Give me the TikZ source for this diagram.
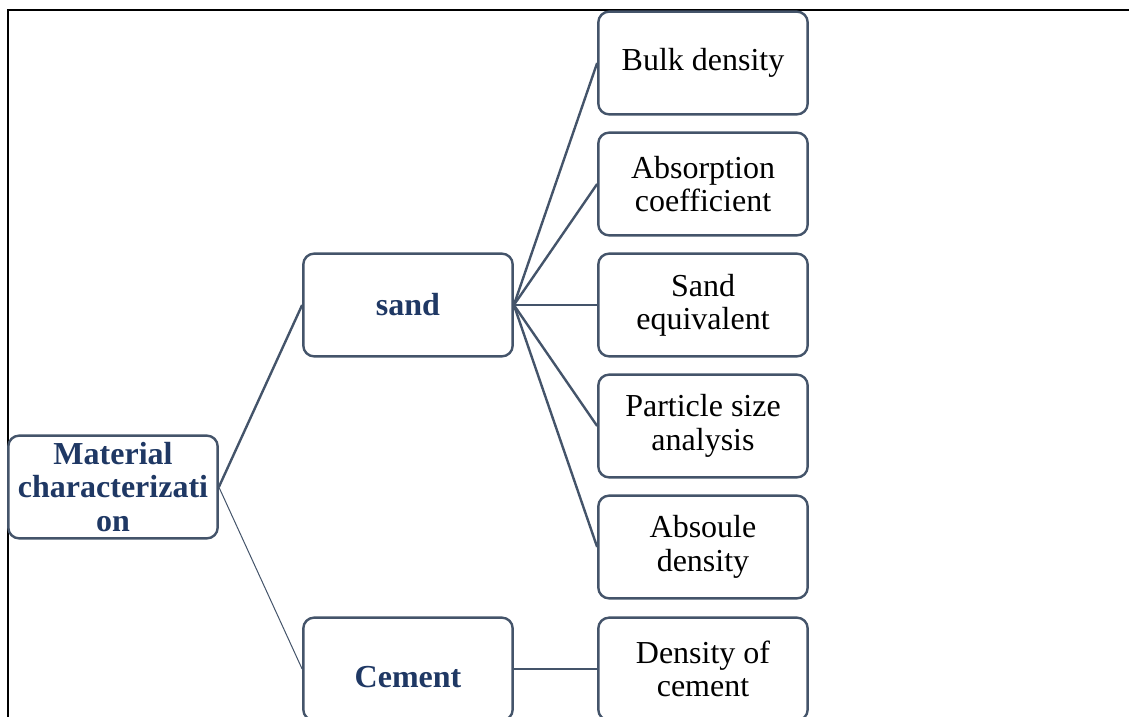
\documentclass[tikz,border=0pt]{standalone}
\usepackage{fontspec}
\setmainfont{Liberation Serif}
\usepackage{tikz}
\usetikzlibrary{positioning}
\definecolor{boxline}{HTML}{44546A}
\definecolor{titleblue}{HTML}{1F3864}

\begin{document}
\begin{tikzpicture}[x=0.75pt,y=-0.75pt]
\tikzstyle{box} = [draw=boxline, line width=1.8pt, rounded corners=8pt, fill=white, minimum width=157pt, minimum height=77pt, align=center, inner sep=2pt, font=\fontsize{24}{25}\selectfont]
\tikzstyle{head} = [box, text=titleblue, font=\fontsize{24}{25}\selectfont\bfseries]
\tikzstyle{link} = [draw=boxline, line width=1.8pt]

\useasboundingbox (0,0) rectangle (1129,717);
\clip (0,0) rectangle (1129,717);

% frame
\draw[line width=1.5pt] (8,717) -- (8,10) -- (1129,10);

\node[head] (mat) at (113,487) {Material\\characterizati\\on};
\node[head] (sand) at (408,305) {sand};
\node[head] (cem) at (408,669) {\raisebox{-14pt}[0pt][0pt]{Cement}};

\draw[link] (mat.east) -- (sand.west);
\draw[link, line width=0.75pt] (mat.east) -- (cem.west);

\foreach \y/\t [count=\i] in {63/{Bulk density}, 184/{Absorption\\coefficient}, 305/{Sand\\equivalent}, 426/{Particle size\\analysis}, 547/{Absoule\\density}} {
\node[box] (p\i) at (703,\y) {\t};
\draw[link] (sand.east) -- (p\i.west);
}

\node[box] (dens) at (703,669) {Density of\\cement};
\draw[link] (cem.east) -- (dens.west);

\end{tikzpicture}
\end{document}
